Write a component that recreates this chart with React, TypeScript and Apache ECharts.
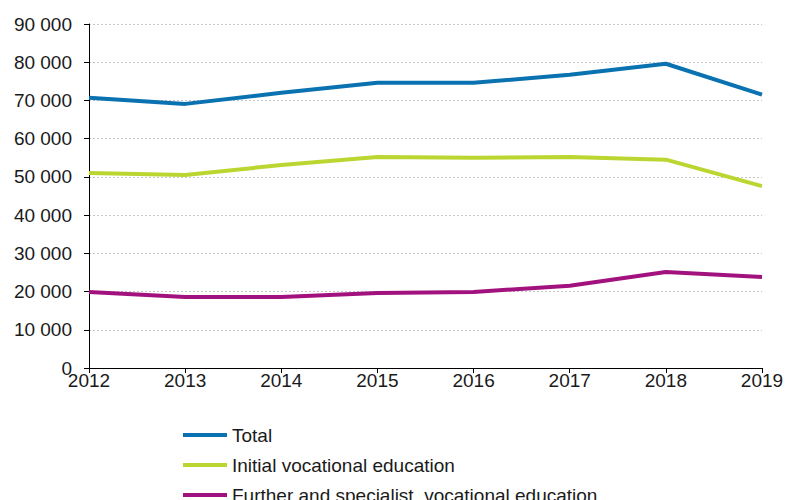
import React, { useEffect, useRef } from "react";
import * as echarts from "echarts";

const years = ["2012", "2013", "2014", "2015", "2016", "2017", "2018", "2019"];
const totalValues = [70700, 69100, 72000, 74600, 74600, 76700, 79600, 71500];
const initialValues = [51000, 50500, 53100, 55200, 55000, 55200, 54500, 47600];
const furtherValues = [19900, 18600, 18600, 19600, 19900, 21500, 25100, 23800];
const seriesNames = ["Total", "Initial vocational education", "Further and specialist  vocational education"];
const seriesColors = ["#0a72b0", "#bcd631", "#a2127e"];

export default function App() {
  const ref = useRef<HTMLDivElement>(null);
  useEffect(() => {
    if (!ref.current) return;
    const chart = echarts.init(ref.current, undefined, { renderer: "svg" });
    const font = "'Liberation Sans', Arial, sans-serif";
    const data = [totalValues, initialValues, furtherValues];
    const legendTops = [420, 450, 480];
    chart.setOption({
      animation: false,
      textStyle: { fontFamily: font },
      grid: { left: 89, right: 25, top: 24, bottom: 132, containLabel: false },
      legend: seriesNames.map((name, i) => ({
        orient: "vertical",
        left: 178,
        top: legendTops[i],
        icon: "rect",
        itemWidth: 44,
        itemHeight: 4,
        textStyle: { fontSize: 19, color: "#1a1a1a", lineHeight: 20, fontFamily: font },
        data: [name],
      })),
      xAxis: {
        type: "category",
        data: years,
        boundaryGap: false,
        axisLine: { lineStyle: { color: "#000", width: 1 } },
        axisTick: { show: true, length: 5, lineStyle: { color: "#000" } },
        axisLabel: { fontSize: 19, color: "#1a1a1a", margin: 3, fontFamily: font },
        splitLine: { show: false },
      },
      yAxis: {
        type: "value",
        min: 0,
        max: 90000,
        interval: 10000,
        axisLine: { show: true, lineStyle: { color: "#000", width: 1 } },
        axisTick: { show: true, length: 5, lineStyle: { color: "#000" } },
        axisLabel: {
          fontSize: 19,
          color: "#1a1a1a",
          margin: 17,
          fontFamily: font,
          formatter: (v: number) => String(v).replace(/\B(?=(\d{3})+(?!\d))/g, " "),
        },
        splitLine: { show: true, lineStyle: { color: "#c8c8c8", type: [2, 2], width: 1 } },
      },
      series: seriesNames.map((name, i) => ({
        name,
        type: "line",
        data: data[i],
        symbol: "none",
        lineStyle: { width: 4, color: seriesColors[i] },
        itemStyle: { color: seriesColors[i] },
      })),
    });
    return () => chart.dispose();
  }, []);
  return <div ref={ref} style={{ position: "fixed", left: 0, top: 0, width: 787, height: 500, background: "#fff" }} />;
}
